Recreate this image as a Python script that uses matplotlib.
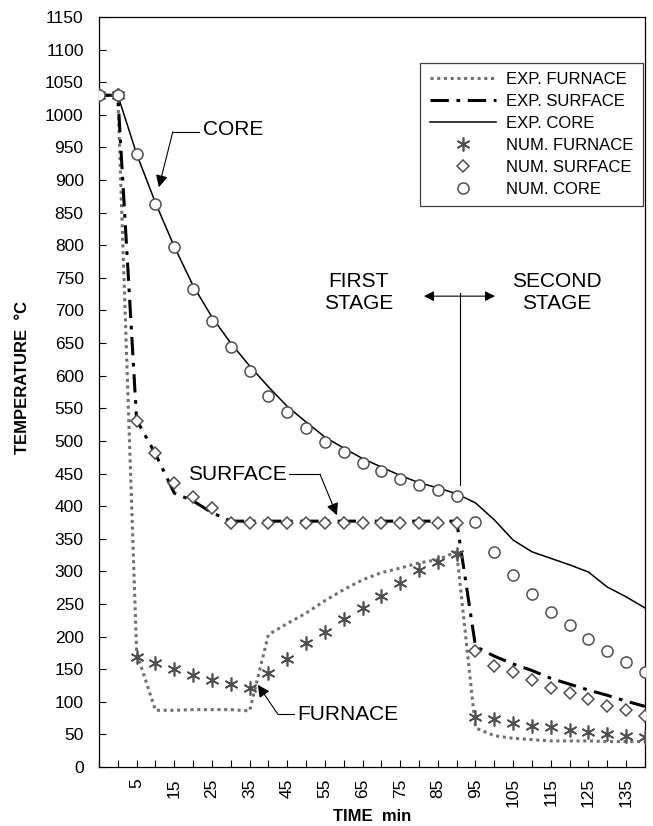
"""Furnace / surface / core temperature history, experiment vs numerical."""
import matplotlib

matplotlib.use("Agg")
import matplotlib.pyplot as plt
from matplotlib.ticker import FixedLocator

plt.rcParams["font.family"] = ["Liberation Sans", "DejaVu Sans"]

# time in minutes (first point is the hold before quenching)
time = [-5, 0, 5, 10, 15, 20, 25, 30, 35, 40, 45, 50, 55, 60, 65, 70,
        75, 80, 85, 90, 95, 100, 105, 110, 115, 120, 125, 130, 135, 140]

exp_furnace = [1030, 1030, 175, 87, 87, 88, 88, 88, 86, 203, 220, 236, 255, 272, 287, 298,
               305, 313, 318, 330, 60, 48, 44, 42, 40, 40, 40, 39, 39, 39]
exp_surface = [1030, 1030, 532, 480, 420, 408, 390, 377, 377, 377, 377, 377, 377, 377, 377, 377,
               377, 377, 377, 377, 185, 170, 158, 148, 136, 127, 118, 110, 101, 93]
exp_core = [1030, 1030, 940, 865, 798, 738, 690, 650, 615, 583, 553, 529, 506, 489, 473, 460,
            447, 436, 428, 419, 405, 379, 348, 330, 320, 310, 299, 276, 261, 244]

num_furnace = [1030, 1030, 169, 160, 150, 141, 133, 127, 121, 144, 165, 190, 207, 227, 244, 262,
               282, 302, 314, 327, 77, 73, 68, 63, 61, 57, 54, 50, 48, 46]
num_surface = [1030, 1030, 530, 481, 435, 414, 397, 374, 374, 374, 374, 374, 374, 374, 374, 374,
               374, 374, 374, 374, 178, 155, 145, 133, 121, 113, 104, 94, 87, 78]
num_core = [1030, 1030, 940, 863, 797, 733, 684, 644, 607, 569, 544, 520, 498, 483, 466, 454,
            442, 432, 425, 416, 376, 330, 294, 265, 238, 218, 196, 178, 161, 146]

x_labels = [5, 15, 25, 35, 45, 55, 65, 75, 85, 95, 105, 115, 125, 135]
y_ticks = list(range(0, 1151, 50))

MARKER_GREY = "#505050"


def arrow(ax, tip, elbow, start):
    ax.plot([start[0], elbow[0]], [start[1], elbow[1]], color="black", lw=0.8)
    ax.annotate("", xy=tip, xytext=elbow,
                arrowprops=dict(arrowstyle="-|>", color="black", lw=0.8,
                                mutation_scale=18, shrinkA=0, shrinkB=0))


def main():
    fig = plt.figure(figsize=(6.53, 8.26), dpi=100)
    ax = fig.add_axes([0.1516, 0.0714, 0.836, 0.908])

    h1, = ax.plot(time, exp_furnace, color="#707070", lw=2.2, ls=(0, (1, 1.2)), label="EXP. FURNACE")
    h2, = ax.plot(time, exp_surface, color="black", lw=2.2, ls=(0, (6, 2.5, 1.2, 2.5)), label="EXP. SURFACE")
    h3, = ax.plot(time, exp_core, color="black", lw=1.1, label="EXP. CORE")
    h4, = ax.plot(time, num_furnace, ls="none", marker=(6, 2, 0), ms=10, mew=1.2,
                  color=MARKER_GREY, label="NUM. FURNACE", zorder=4)
    h5, = ax.plot(time, num_surface, ls="none", marker="D", ms=6.5, mew=1.1, mfc="white",
                  mec=MARKER_GREY, label="NUM. SURFACE", zorder=4)
    h6, = ax.plot(time, num_core, ls="none", marker="o", ms=8, mew=1.1, mfc="white",
                  mec=MARKER_GREY, label="NUM. CORE", zorder=4)

    ax.set_xlim(-5, 140)
    ax.set_ylim(0, 1150)
    ax.xaxis.set_major_locator(FixedLocator(x_labels))
    ax.xaxis.set_minor_locator(FixedLocator(time))
    ax.set_xticklabels([str(v) for v in x_labels], rotation=90, fontsize=12.5)
    ax.set_yticks(y_ticks)
    ax.set_yticklabels([str(v) for v in y_ticks], fontsize=12.5)
    ax.tick_params(axis="x", which="both", direction="in", length=5, width=0.8, pad=8)
    ax.tick_params(axis="y", direction="in", length=5, width=0.8, pad=11)
    for spine in ax.spines.values():
        spine.set_linewidth(0.9)

    ax.set_xlabel("TIME  min", fontsize=12, fontweight="bold", labelpad=1)
    ax.set_ylabel("TEMPERATURE  °C", fontsize=12, fontweight="bold")
    ax.yaxis.set_label_coords(-0.127, 0.52)

    leg = ax.legend(handles=[h1, h2, h3, h4, h5, h6], loc="upper right",
                    bbox_to_anchor=(0.996, 0.9387), fontsize=12, handlelength=4.0,
                    handletextpad=0.6, labelspacing=0.42, borderpad=0.55,
                    borderaxespad=0, fancybox=False, framealpha=1, edgecolor="#404040")
    leg.get_frame().set_linewidth(0.9)

    # curve callouts
    ax.text(22.6, 977, "CORE", fontsize=15, va="center", ha="left")
    arrow(ax, (10.9, 889), (14.6, 974), (21.6, 974))
    ax.text(44.9, 449, "SURFACE", fontsize=15, va="center", ha="right")
    arrow(ax, (58.2, 386), (53.7, 449), (45.6, 449))
    ax.text(47.6, 81, "FURNACE", fontsize=15, va="center", ha="left")
    arrow(ax, (37.2, 126), (42.5, 81), (46.8, 81))

    # stage separation
    ax.text(64, 727, "FIRST\nSTAGE", fontsize=15, ha="center", va="center", linespacing=1.2)
    ax.text(116.6, 727, "SECOND\nSTAGE", fontsize=15, ha="center", va="center", linespacing=1.2)
    ax.annotate("", xy=(81.3, 722), xytext=(100.2, 722),
                arrowprops=dict(arrowstyle="<|-|>", color="black", lw=0.8, mutation_scale=15,
                                shrinkA=0, shrinkB=0))
    ax.plot([90.9, 90.9], [727, 432], color="black", lw=0.8)

    fig.savefig("out.png", dpi=100, facecolor="white")
    plt.close(fig)


if __name__ == "__main__":
    main()
